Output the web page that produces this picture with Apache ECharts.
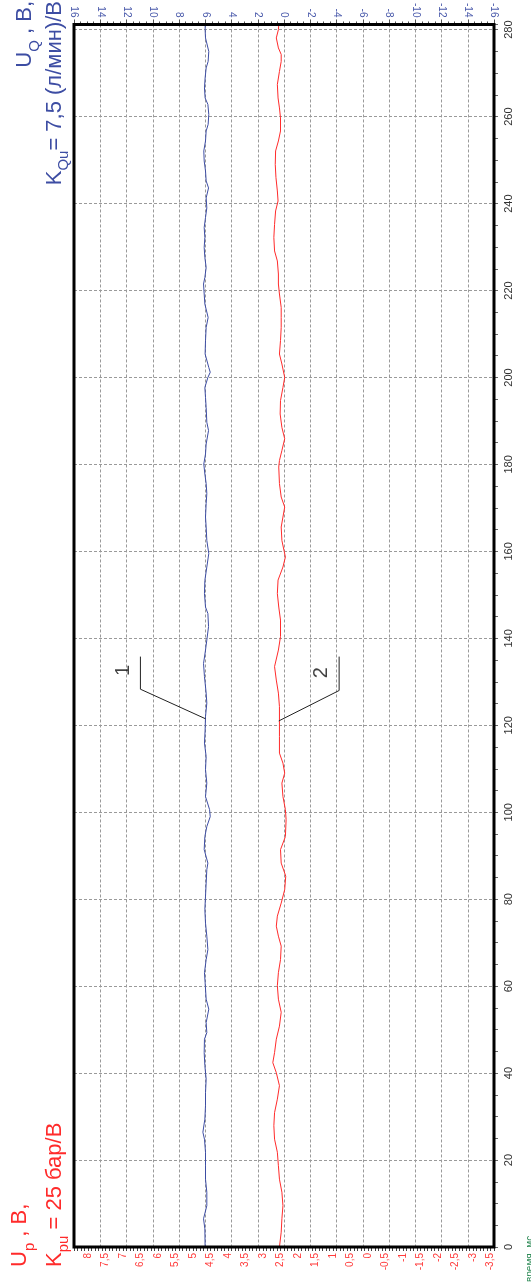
<!DOCTYPE html>
<html><head><meta charset="utf-8">
<script src="https://cdn.jsdelivr.net/npm/echarts@6/dist/echarts.min.js"></script>
<style>html,body{margin:0;padding:0;background:#fff}#c{width:531px;height:1283px}</style>
</head><body><div id="c"></div>
<script>
// ---- tick labels ----
const timeTickLabels = [0,20,40,60,80,100,120,140,160,180,200,220,240,260,280];
const uqTickLabels = [16,14,12,10,8,6,4,2,0,-2,-4,-6,-8,-10,-12,-14,-16];
const upTickLabels = [8,7.5,7,6.5,6,5.5,5,4.5,4,3.5,3,2.5,2,1.5,1,0.5,0,-0.5,-1,-1.5,-2,-2.5,-3,-3.5];

// ---- curve 2 (red, Up, bottom scale) ----
const upTime = [0,3.4,6.5,9.5,12.6,15.6,18.7,21.8,24.8,27.9,30.9,34.0,37.1,40.1,42.4,44.7,47.8,50.8,54.0,57.0,60.1,63.1,66.1,69.2,71.5,73.8,76.1,79.1,82.2,85.3,88.3,91.4,94.4,98.3,100.6,103.6,106.7,109.0,111.3,113.6,117.4,121.2,124.3,127.4,130.4,133.5,137.3,140.4,144.2,147.2,150.3,153.4,156.4,158.7,162.5,165.6,167.9,170.2,172.5,175.6,179.4,180.9,183.2,185.9,188.5,191.6,194.7,197.7,200.0,203.1,205.4,208.5,211.5,213.8,216.1,219.2,221.5,223.8,226.8,229.1,232.2,235.2,238.3,240.6,242.9,246.0,249.0,252.1,254.4,256.7,259.7,262.0,264.3,267.4,270.4,272.7,274.3,275.8,278.1,280.0,281.2];
const upValues = [2.53,2.48,2.46,2.43,2.46,2.53,2.56,2.59,2.67,2.69,2.67,2.59,2.53,2.62,2.72,2.67,2.62,2.53,2.48,2.56,2.59,2.56,2.50,2.48,2.56,2.62,2.59,2.48,2.38,2.35,2.48,2.50,2.36,2.34,2.36,2.43,2.46,2.38,2.43,2.53,2.53,2.53,2.53,2.56,2.62,2.67,2.56,2.50,2.50,2.55,2.59,2.57,2.43,2.36,2.46,2.48,2.43,2.38,2.48,2.53,2.55,2.53,2.46,2.38,2.46,2.51,2.50,2.43,2.38,2.46,2.53,2.50,2.48,2.48,2.48,2.53,2.56,2.56,2.59,2.67,2.69,2.67,2.64,2.57,2.59,2.63,2.65,2.64,2.56,2.50,2.50,2.53,2.57,2.59,2.53,2.48,2.48,2.56,2.62,2.56,2.55];

// ---- curve 1 (blue, UQ, top scale) ----
const uqTime = [0,4.2,6.5,9.5,12.6,15.6,18.7,21.8,24.8,26.4,29.4,32.5,35.5,38.6,41.7,44.7,47.8,49.3,51.6,54.7,57.0,60.8,63.1,66.1,68.4,71.5,74.5,77.6,80.7,83.7,86.8,88.3,91.4,94.4,96.7,99.0,100.6,103.6,106.7,109.8,112.8,115.9,118.9,122.0,125.1,127.4,131.2,134.2,137.3,139.6,142.7,145.7,147.2,150.3,153.3,156.4,159.5,162.5,165.6,167.9,171.0,173.3,175.6,177.8,180.1,182.4,184.7,187.8,189.7,193.1,195.4,197.7,200.0,201.2,202.3,205.4,208.5,211.5,213.8,216.9,219.2,221.5,223.0,225.3,227.6,229.9,232.2,234.5,236.8,239.0,241.3,243.6,245.2,247.5,249.8,252.1,254.4,256.7,258.2,260.5,262.8,264.3,266.6,268.9,271.2,272.7,275.0,278.1,280.0,281.2];
const uqValues = [6.01,6.03,6.13,5.88,5.88,5.98,5.98,5.98,6.06,6.18,6.03,5.98,5.98,5.93,6.03,6.08,6.06,5.88,5.93,5.73,5.93,6.01,6.06,5.93,5.80,5.88,5.98,6.03,5.98,5.93,5.88,5.80,6.08,6.03,5.88,5.62,5.67,5.98,5.88,5.98,5.93,6.06,6.01,5.98,5.88,5.93,6.06,6.13,5.98,5.88,5.75,5.80,5.98,6.06,6.03,5.88,5.73,5.88,5.93,5.98,5.93,5.88,5.93,6.03,6.11,5.98,5.93,5.75,5.88,5.93,5.98,6.03,5.80,5.62,5.73,6.01,5.98,5.93,5.78,6.03,6.08,6.13,6.03,5.93,6.03,6.08,6.03,6.08,5.98,5.88,5.93,5.75,5.93,5.98,6.08,6.11,5.98,5.93,5.78,5.73,5.80,6.01,6.06,6.01,5.93,5.78,5.73,5.98,6.01,6.00];

// ---- leader lines for labels "1" and "2" (in UQ / time units) ----
const leader1X = [10.94, 10.94, 5.98];
const leader1T = [135.8, 128.3, 121.5];
const leader2X = [-4.2, -4.2, 0.4];
const leader2T = [135.8, 128.0, 121.0];
const leaderLabels = ['1', '2'];
const leaderLabelX = [12.2, -2.84];
const leaderLabelT = [132.6, 132.1];

const FONT = '"Liberation Sans", Arial, sans-serif';
const RED = '#ff2b2b';
const BLUE = '#3d4da3';

const zip = (a, b) => a.map((v, i) => [v, b[i]]);

// minor ticks of the Up scale every 0.1
const upTicks = [];
for (let k = -36; k <= 84; k++) upTicks.push(k / 10);

const fmtComma = v => String(v).replace('.', ',');

// rotated multi-part titles
const mctx = document.createElement('canvas').getContext('2d');
function tw(t, fs) { mctx.font = fs + 'px "Liberation Sans"'; return mctx.measureText(t).width; }
function rotLine(parts, y, color, endAligned) {
  const total = parts.reduce((s, p) => s + tw(p.t, p.fs), 0);
  const y0 = endAligned ? y + total : y;
  let lx = 0;
  const children = [];
  parts.forEach(p => {
    children.push({ type: 'text', x: lx, y: p.base - 0.35 * p.fs,
      style: { text: p.t, fill: color, font: p.fs + 'px ' + FONT, align: 'left', verticalAlign: 'middle' } });
    lx += tw(p.t, p.fs);
  });
  return { type: 'group', x: 0, y: y0, rotation: Math.PI / 2, children };
}

const chart = echarts.init(document.getElementById('c'), null, { renderer: 'canvas' });
const gridLine = { show: true, showMinLine: false, showMaxLine: false,
  lineStyle: { color: '#9a9a9a', width: 1, type: [3, 2] } };

chart.setOption({
  animation: false,
  backgroundColor: '#fff',
  grid: { left: 74, right: 37, top: 21, bottom: 36, show: true, borderColor: '#000', borderWidth: 3, backgroundColor: 'transparent', z: 4 },
  xAxis: [
    { type: 'value', position: 'top', min: -16, max: 16, interval: 2, inverse: true,
      axisLine: { show: false, onZero: false },
      axisTick: { show: true, length: 5, lineStyle: { color: '#555' } },
      minorTick: { show: true, splitNumber: 4, length: 3, lineStyle: { color: '#555' } },
      axisLabel: { rotate: 90, color: '#4a5aab', fontSize: 10, margin: 7, fontFamily: FONT,
        customValues: uqTickLabels },
      splitLine: gridLine },
    { type: 'value', position: 'bottom', min: -3.6, max: 8.4, inverse: true,
      axisLine: { show: false, onZero: false },
      axisTick: { show: true, length: 4, customValues: upTicks, lineStyle: { color: '#444' } },
      axisLabel: { rotate: 90, color: '#ff3b3b', fontSize: 10, margin: 6, fontFamily: FONT,
        customValues: upTickLabels, formatter: fmtComma },
      splitLine: { show: false } }
  ],
  yAxis: [
    { type: 'value', position: 'right', min: 0, max: 281.2, interval: 20,
      axisLine: { show: false, onZero: false },
      axisTick: { show: true, length: 4, lineStyle: { color: '#666' } },
      minorTick: { show: true, splitNumber: 4, length: 4, lineStyle: { color: '#666' } },
      axisLabel: { rotate: 90, color: '#333', fontSize: 11, margin: 9, fontFamily: FONT,
        customValues: timeTickLabels },
      splitLine: gridLine }
  ],
  series: [
    { type: 'line', xAxisIndex: 0, yAxisIndex: 0, data: zip(uqValues, uqTime), showSymbol: false,
      lineStyle: { color: BLUE, width: 1 }, z: 3 },
    { type: 'line', xAxisIndex: 1, yAxisIndex: 0, data: zip(upValues, upTime), showSymbol: false,
      lineStyle: { color: RED, width: 1 }, z: 3 },
    { type: 'line', xAxisIndex: 0, yAxisIndex: 0, data: zip(leader1X, leader1T), showSymbol: false,
      lineStyle: { color: '#222', width: 1 }, z: 4 },
    { type: 'line', xAxisIndex: 0, yAxisIndex: 0, data: zip(leader2X, leader2T), showSymbol: false,
      lineStyle: { color: '#222', width: 1 }, z: 4 },
    { type: 'scatter', xAxisIndex: 0, yAxisIndex: 0, symbolSize: 0, z: 5,
      data: leaderLabels.map((s, i) => ({ value: [leaderLabelX[i], leaderLabelT[i]], name: s })),
      label: { show: true, position: 'inside', formatter: p => p.name, rotate: 90,
        fontSize: 20, color: '#111', fontFamily: FONT } }
  ],
  graphic: [
    rotLine([{ t: 'U', fs: 22, base: 28 }, { t: 'p', fs: 15, base: 35 }, { t: ' , В,', fs: 22, base: 28 }], 1267, RED, false),
    rotLine([{ t: 'K', fs: 22, base: 62.7 }, { t: 'pu', fs: 15, base: 69 }, { t: ' = 25 бар/В', fs: 22, base: 62.7 }], 1267, RED, false),
    rotLine([{ t: 'U', fs: 22, base: 33 }, { t: 'Q', fs: 15, base: 40 }, { t: ' , В,', fs: 22, base: 33 }], 1, BLUE, true),
    rotLine([{ t: 'K', fs: 22, base: 63 }, { t: 'Qu', fs: 15, base: 69 }, { t: '= 7,5 (л/мин)/В', fs: 22, base: 63 }], 1, BLUE, true),
    { type: 'text', x: 530, y: 1282, rotation: Math.PI / 2,
      style: { text: 'время, мс', fill: '#2e8b57', font: '10px ' + FONT, align: 'left', verticalAlign: 'middle' } }
  ]
});
</script></body></html>
